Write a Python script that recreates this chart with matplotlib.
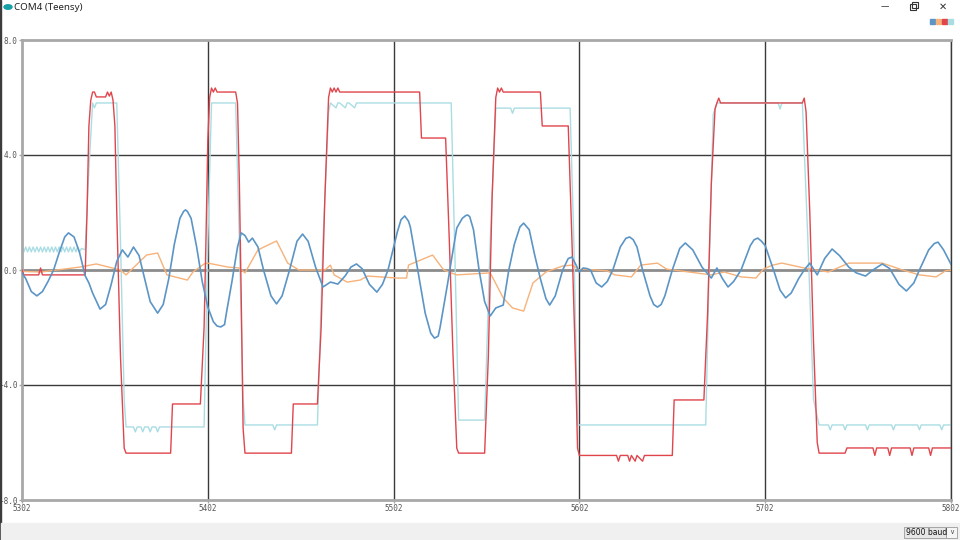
import matplotlib
matplotlib.use("Agg")
import matplotlib.pyplot as plt
from matplotlib.patches import Rectangle, Circle

# ---- data (sample index, value) ----
blue_x = [5302, 5304, 5307, 5310, 5313, 5316, 5319, 5322, 5325, 5327, 5330, 5333, 5336, 5338, 5340,
          5344, 5347, 5350, 5353, 5356, 5359, 5362, 5365, 5368, 5371, 5375, 5378, 5381, 5384, 5387,
          5389, 5390, 5391, 5393, 5396, 5399, 5402, 5405, 5407, 5409, 5411, 5412, 5415, 5418, 5420, 5422, 5424, 5426, 5429,
          5432, 5436, 5439, 5442, 5446, 5450, 5453, 5456, 5460, 5464, 5468, 5472, 5476, 5479, 5482,
          5485, 5489, 5493, 5496, 5499, 5504, 5506, 5508, 5510, 5511, 5515, 5519, 5522, 5524, 5526, 5527, 5531, 5533,
          5536, 5539, 5541, 5542, 5543, 5545, 5548, 5551, 5554, 5557, 5561, 5564, 5567, 5570, 5572, 5575, 5578,
          5581, 5584, 5586, 5589, 5593, 5596, 5598, 5600, 5602, 5604, 5606, 5608, 5611, 5614, 5617,
          5620, 5624, 5627, 5629, 5631, 5633, 5636, 5640, 5642, 5644, 5646, 5648, 5652, 5656, 5659, 5663, 5668, 5673, 5676,
          5679, 5682, 5685, 5689, 5694, 5696, 5698, 5700, 5702, 5707, 5710, 5713, 5716, 5720, 5723, 5726, 5730,
          5734, 5738, 5742, 5747, 5751, 5756, 5760, 5765, 5769, 5774, 5778, 5782, 5785, 5790, 5793, 5795,
          5798, 5802]
blue_y = [-0.1, -0.3, -0.75, -0.9, -0.75, -0.4, 0.0, 0.6, 1.15, 1.29, 1.15, 0.6, -0.2, -0.45, -0.8,
          -1.36, -1.2, -0.5, 0.3, 0.7, 0.45, 0.8, 0.5, -0.3, -1.1, -1.5, -1.2, -0.3, 0.9, 1.8,
          2.04, 2.09, 2.04, 1.8, 0.8, -0.4, -1.29, -1.8, -1.95, -1.98, -1.9, -1.5, -0.4, 0.8, 1.29, 1.2, 0.97, 1.11, 0.8,
          0.0, -0.9, -1.18, -0.9, 0.0, 1.0, 1.25, 1.0, 0.1, -0.59, -0.42, -0.49, -0.2, 0.1, 0.21,
          0.05, -0.5, -0.77, -0.5, 0.0, 1.32, 1.75, 1.88, 1.7, 1.5, 0.0, -1.5, -2.2, -2.37, -2.3, -2.0, -0.5, 0.3,
          1.46, 1.8, 1.9, 1.91, 1.85, 1.4, 0.0, -1.1, -1.6, -1.32, -1.22, 0.0, 0.9, 1.5, 1.63, 1.4, 0.5,
          -0.3, -1.0, -1.22, -0.9, 0.0, 0.4, 0.45, 0.2, -0.07, 0.07, 0.05, 0.0, -0.45, -0.59, -0.4,
          0.0, 0.8, 1.1, 1.15, 1.05, 0.8, 0.0, -0.9, -1.2, -1.29, -1.2, -0.9, 0.0, 0.75, 0.94, 0.7, 0.1, -0.28, 0.07,
          -0.3, -0.59, -0.4, 0.0, 0.85, 1.05, 1.11, 1.0, 0.85, -0.1, -0.7, -0.97, -0.8, -0.3, 0.0, 0.24, -0.17,
          0.4, 0.73, 0.5, 0.1, -0.1, -0.21, 0.0, 0.21, 0.05, -0.5, -0.73, -0.45, 0.0, 0.7, 0.92, 0.97,
          0.7, 0.2]

orange_x = [5302, 5312, 5333, 5342, 5355, 5358, 5369, 5375, 5380, 5391, 5394, 5400, 5402, 5413, 5419,
            5422, 5429, 5439, 5445, 5451, 5465, 5468, 5470, 5477, 5484, 5488, 5504, 5509, 5510, 5523,
            5529, 5536, 5554, 5561, 5566, 5572, 5577, 5584, 5593, 5598, 5602, 5604, 5617, 5621, 5630,
            5635, 5644, 5649, 5673, 5680, 5689, 5697, 5701, 5706, 5711, 5723, 5736, 5742, 5747, 5765,
            5776, 5785, 5794, 5799, 5802]
orange_y = [-0.05, -0.07, 0.1, 0.21, 0.0, -0.17, 0.52, 0.59, -0.17, -0.35, -0.07, 0.21, 0.24, 0.1, 0.07,
            -0.1, 0.7, 1.01, 0.24, 0.0, 0.0, 0.17, -0.17, -0.42, -0.35, -0.21, -0.28, -0.28, 0.17, 0.52,
            0.0, -0.17, -0.1, -0.97, -1.32, -1.43, -0.45, -0.07, 0.14, 0.17, 0.0, 0.03, -0.03, -0.17, -0.24,
            0.17, 0.24, 0.03, -0.17, -0.07, -0.24, -0.28, 0.03, 0.17, 0.24, 0.07, -0.07, 0.1, 0.24, 0.24,
            0.0, -0.17, -0.24, -0.03, 0.0]

red_x = [5302, 5303, 5311, 5312, 5313, 5336, 5337, 5338, 5339, 5340, 5341, 5342, 5347, 5348, 5349,
         5350, 5351, 5352, 5353, 5355, 5357, 5358, 5382, 5383, 5398, 5400, 5401, 5402, 5403, 5404,
         5405, 5406, 5407, 5417, 5418, 5419, 5420, 5421, 5422, 5447, 5448, 5461, 5463, 5465, 5467,
         5468, 5469, 5470, 5471, 5472, 5473, 5516, 5517, 5530, 5532, 5534, 5536, 5537, 5551, 5553,
         5555, 5557, 5558, 5559, 5560, 5561, 5581, 5582, 5596, 5598, 5600, 5601, 5602, 5622, 5623,
         5624, 5628, 5629, 5630, 5632, 5633, 5636, 5637, 5652, 5653, 5669, 5671, 5673, 5675, 5676,
         5677, 5678, 5722, 5723, 5724, 5726, 5728, 5730, 5731, 5745, 5746, 5760, 5761, 5762, 5768,
         5769, 5770, 5780, 5781, 5782, 5790, 5791, 5792, 5802]
red_y = [0.0, -0.17, -0.17, 0.07, -0.17, -0.17, 2.0, 5.0, 5.9, 6.19, 6.19, 6.02, 6.02, 6.19, 6.05,
         6.19, 5.9, 5.0, 2.0, -3.0, -6.2, -6.37, -6.37, -4.66, -4.66, -2.0, 1.0, 4.5, 6.0, 6.33,
         6.19, 6.33, 6.19, 6.19, 5.8, 3.0, -1.0, -5.5, -6.37, -6.37, -4.66, -4.66, -2.0, 2.5, 6.0,
         6.33, 6.19, 6.33, 6.19, 6.33, 6.19, 6.19, 4.59, 4.59, 1.0, -3.0, -6.2, -6.37, -6.37, -3.0,
         2.5, 6.0, 6.33, 6.19, 6.33, 6.19, 6.19, 5.01, 5.01, 1.0, -3.5, -6.2, -6.45, -6.45, -6.65,
         -6.45, -6.45, -6.65, -6.45, -6.65, -6.45, -6.65, -6.45, -6.45, -4.52, -4.52, -1.5, 3.0, 5.6, 5.81,
         5.98, 5.81, 5.81, 5.98, 5.5, 2.0, -2.5, -6.0, -6.37, -6.37, -6.19, -6.19, -6.45, -6.19, -6.19,
         -6.45, -6.19, -6.19, -6.45, -6.19, -6.19, -6.45, -6.19, -6.19]

cyan_x = [5302, 5303, 5304, 5305, 5306, 5307, 5308, 5309, 5310, 5311, 5312, 5313, 5314, 5315, 5316,
          5317, 5318, 5319, 5320, 5321, 5322, 5323, 5324, 5325, 5326, 5327, 5328, 5329, 5330, 5331,
          5332, 5333, 5334, 5336, 5338, 5340, 5341, 5342, 5353, 5355, 5357, 5358, 5362, 5363, 5364,
          5366, 5367, 5368, 5370, 5371, 5372, 5374, 5375, 5376, 5400, 5402, 5404, 5417, 5419, 5421,
          5422, 5437, 5438, 5439, 5461, 5464, 5467, 5468, 5471, 5472, 5473, 5476, 5477, 5478, 5481,
          5482, 5483, 5533, 5535, 5537, 5551, 5554, 5557, 5565, 5566, 5567, 5597, 5599, 5601, 5670,
          5672, 5674, 5676, 5709, 5710, 5711, 5722, 5725, 5728, 5731, 5736, 5737, 5738, 5744, 5745,
          5746, 5756, 5757, 5758, 5770, 5771, 5772, 5784, 5785, 5786, 5796, 5797, 5798, 5802]
cyan_y = [0.8, 0.63, 0.8, 0.63, 0.8, 0.63, 0.8, 0.63, 0.8, 0.63, 0.8, 0.63, 0.8, 0.63, 0.8,
          0.63, 0.8, 0.63, 0.8, 0.63, 0.8, 0.63, 0.8, 0.63, 0.8, 0.63, 0.8, 0.63, 0.8, 0.63,
          0.8, 0.63, 0.75, 0.7, 3.5, 5.81, 5.64, 5.81, 5.81, 1.0, -4.5, -5.46, -5.46, -5.63, -5.46,
          -5.46, -5.63, -5.46, -5.46, -5.63, -5.46, -5.46, -5.63, -5.46, -5.46, 1.0, 5.81, 5.81, 1.0, -4.5,
          -5.39, -5.39, -5.56, -5.39, -5.39, 1.0, 5.5, 5.81, 5.64, 5.81, 5.81, 5.64, 5.81, 5.81, 5.64,
          5.81, 5.81, 5.81, 0.5, -5.22, -5.22, 1.0, 5.63, 5.63, 5.45, 5.63, 5.63, 1.0, -5.39, -5.39,
          0.5, 5.4, 5.81, 5.81, 5.6, 5.81, 5.81, 1.0, -4.5, -5.39, -5.39, -5.56, -5.39, -5.39, -5.56,
          -5.39, -5.39, -5.56, -5.39, -5.39, -5.56, -5.39, -5.39, -5.56, -5.39, -5.39, -5.56, -5.39, -5.39]

x_ticks = [5302, 5402, 5502, 5602, 5702, 5802]
y_ticks = [8.0, 4.0, 0.0, -4.0, -8.0]
series_colors = ["#5b95c6", "#f7b27a", "#e0454c", "#aadde3"]

W, H = 960, 540
fig = plt.figure(figsize=(9.6, 5.4), dpi=100)
fig.patch.set_facecolor("white")

ax = fig.add_axes([22 / W, (H - 500) / H, (951 - 22) / W, 460 / H])
ax.set_xlim(5302, 5802)
ax.set_ylim(-8, 8)

# grid
for xv in x_ticks[1:]:
    ax.axvline(xv, color="#3a3a3a", lw=1.0, zorder=1)
for yv in [4.0, -4.0]:
    ax.axhline(yv, color="#3a3a3a", lw=1.0, zorder=1)
ax.axhline(0.0, color="#8c8c8c", lw=2.0, zorder=1)

# series (drawn back to front like the plotter)
ax.plot(cyan_x, cyan_y, color=series_colors[3], lw=1.0, zorder=2)
ax.plot(orange_x, orange_y, color=series_colors[1], lw=1.0, zorder=3)
ax.plot(red_x, red_y, color=series_colors[2], lw=1.0, zorder=4)
ax.plot(blue_x, blue_y, color=series_colors[0], lw=1.2, zorder=5)

for side in ["left", "top", "bottom"]:
    ax.spines[side].set_color("#a8a8a8")
    ax.spines[side].set_linewidth(2)
ax.spines["right"].set_color("#3a3a3a")
ax.spines["right"].set_linewidth(1)

ax.set_xticks(x_ticks)
ax.set_xticklabels([str(v) for v in x_ticks])
ax.set_yticks(y_ticks)
ax.set_yticklabels(["%.1f" % v for v in y_ticks])
ax.tick_params(axis="both", length=2.5, width=1, color="#a8a8a8", labelsize=5.5,
               labelcolor="#555555", pad=0.5)
for lab in ax.get_xticklabels() + ax.get_yticklabels():
    lab.set_family("DejaVu Sans Mono")

# ---- window chrome ----
fig.add_artist(Circle((8 / W, 1 - 7 / H), 4 / W, transform=fig.transFigure,
                      color="#17a0a6"))
fig.text(14 / W, 1 - 7 / H, "COM4 (Teensy)", fontsize=7, color="#222222",
         family="Noto Sans", va="center", ha="left")
fig.text(885 / W, 1 - 7 / H, "\u2014", fontsize=6, color="#333333", va="center", ha="center")
fig.add_artist(Rectangle((910 / W, 1 - 10 / H), 6 / W, 6 / H, transform=fig.transFigure,
                         fill=False, ec="#333333", lw=0.8))
fig.add_artist(Rectangle((912 / W, 1 - 8 / H), 6 / W, 6 / H, transform=fig.transFigure,
                         fill=False, ec="#333333", lw=0.8))
fig.text(943 / W, 1 - 7 / H, "\u2715", fontsize=7, color="#333333", va="center", ha="center")

# legend squares
for i, c in enumerate(series_colors):
    fig.add_artist(Rectangle(((930 + i * 6) / W, 1 - 24 / H), 5 / W, 5 / H,
                             transform=fig.transFigure, color=c))

# left dark window border
fig.add_artist(Rectangle((0, 0), 1 / W, 1, transform=fig.transFigure, color="#3c3c3c"))

# bottom status band with baud selector
fig.add_artist(Rectangle((1 / W, 0), 1, 17 / H, transform=fig.transFigure, color="#f0f0f0"))
fig.add_artist(Rectangle((904 / W, 2 / H), 42 / W, 11 / H, transform=fig.transFigure,
                         fc="#e6e6e6", ec="#9a9a9a", lw=0.6))
fig.add_artist(Rectangle((946 / W, 2 / H), 11 / W, 11 / H, transform=fig.transFigure,
                         fc="#f5f5f5", ec="#9a9a9a", lw=0.6))
fig.text(906 / W, 7.5 / H, "9600 baud", fontsize=5.5, color="#111111", va="center", ha="left")
fig.text(951.5 / W, 8 / H, "\u2228", fontsize=5, color="#555555", va="center", ha="center")

fig.savefig("out.png", dpi=100)
